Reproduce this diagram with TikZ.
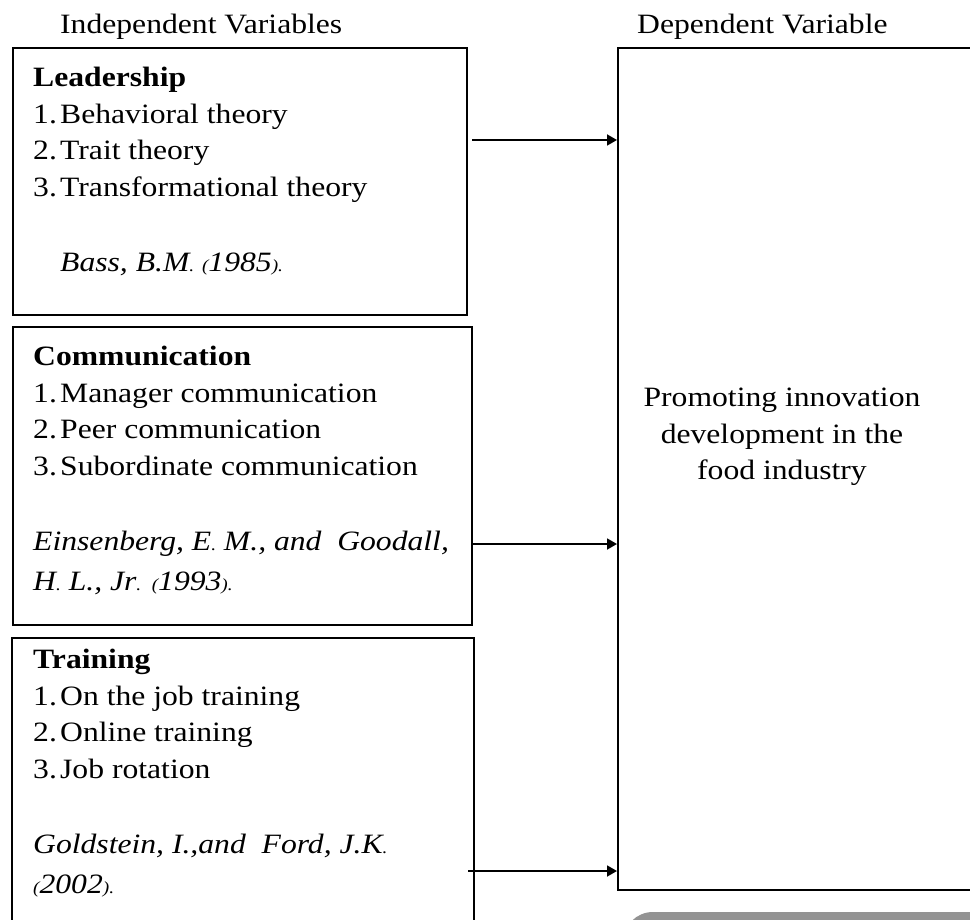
\documentclass[tikz,border=0pt]{standalone}
\usepackage{fontspec}
\setmainfont{Liberation Serif}[FakeStretch=1.13]
\usetikzlibrary{arrows.meta}

\definecolor{shadegray}{HTML}{939393}
\newcommand{\sm}[1]{{\fontsize{17}{17}\selectfont #1}}
\newcommand{\itm}[1]{\makebox[27pt][l]{#1}}

\tikzset{
  varbox/.style={draw, line width=1.8pt, inner sep=0pt, anchor=north west},
  boxtext/.style={anchor=north west, inner sep=0pt, align=left, font=\fontsize{28}{36.5}\selectfont},
  heading/.style={anchor=base west, inner sep=0pt, font=\fontsize{28}{34}\selectfont},
  arrow/.style={line width=1.8pt, -{Triangle[length=10pt,width=11pt]}},
}

\begin{document}
\begin{tikzpicture}[x=1pt,y=-1pt]
\useasboundingbox (0,0) rectangle (970,920);

% headings
\node[heading] (indep) at (60,34) {Independent Variables};
\node[heading] (depend) at (637,34) {Dependent Variable};

% independent variables
\node[varbox, minimum width=454pt, minimum height=267pt] (lead) at (12,47) {};
\node[boxtext] (leadtxt) at (33,67) {\textbf{Leadership}\\
  \itm{1.}Behavioral theory\\
  \itm{2.}Trait theory\\
  \itm{3.}Transformational theory\\[38.5pt]
  \hspace*{27pt}\textit{Bass, B.M\sm{.} \sm{(}1985\sm{).}}};

\node[varbox, minimum width=459pt, minimum height=298pt] (comm) at (12,326) {};
\node[boxtext] (commtxt) at (33,346) {\textbf{Communication}\\
  \itm{1.}Manager communication\\
  \itm{2.}Peer communication\\
  \itm{3.}Subordinate communication\\[38.5pt]
  \textit{Einsenberg, E\sm{.} M., and\ \ Goodall,}\\[3.5pt]
  \textit{H\sm{.} L., Jr\sm{.} \sm{(}1993\sm{).}}};

\node[varbox, minimum width=462pt, minimum height=300pt] (train) at (11,637) {};
\node[boxtext] (traintxt) at (33,649) {\textbf{Training}\\
  \itm{1.}On the job training\\
  \itm{2.}Online training\\
  \itm{3.}Job rotation\\[38.5pt]
  \textit{Goldstein, I.,and\ \ Ford, J.K\sm{.}}\\[3.5pt]
  \textit{\sm{(}2002\sm{).}}};

% dependent variable
\node[varbox, minimum width=370pt, minimum height=842pt] (dep) at (617,47) {};
\node[boxtext, anchor=center, align=center] (deptxt) at (782,437)
  {Promoting innovation\\development in the\\food industry};

% connectors
\coordinate (a1) at (472,140);
\coordinate (a2) at (473,544);
\coordinate (a3) at (468,871);
\draw[arrow] (a1) -- (dep.west |- a1);
\draw[arrow] (a2) -- (dep.west |- a2);
\draw[arrow] (a3) -- (dep.west |- a3);

% grey shape at the bottom
\fill[shadegray, rounded corners=30pt] (623,912) rectangle (1010,990);
\end{tikzpicture}
\end{document}
